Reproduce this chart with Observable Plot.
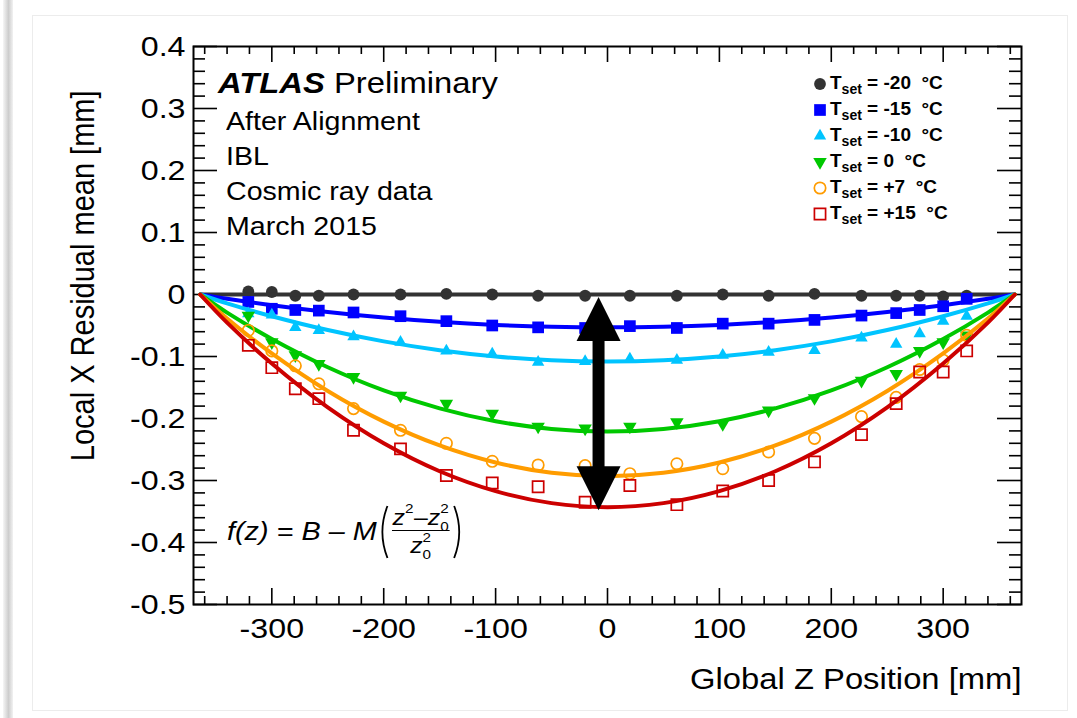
<!DOCTYPE html>
<html>
<head>
<meta charset="utf-8">
<script src="https://cdn.jsdelivr.net/npm/d3@7"></script>
<script src="https://cdn.jsdelivr.net/npm/@observablehq/plot@0.6"></script>
<style>
html,body{margin:0;padding:0;background:#fff;}
#wrap{position:relative;width:1077px;height:718px;overflow:hidden;font-family:"Liberation Sans",Arial,Helvetica,sans-serif;color:#000;}
.stripe{position:absolute;left:3px;top:0;width:10px;height:718px;background:linear-gradient(to right,#f6f6f6,#cdcdcd 55%,#f2f2f2);}
.panel{position:absolute;left:32px;top:15px;width:1034px;height:694px;border:1px solid #ececec;}
#chart{position:absolute;left:0;top:0;}
.lbl{position:absolute;line-height:1;white-space:pre;transform:scaleX(1.13);transform-origin:0 0;}
.leg{font-weight:bold;font-size:19px;transform:none;}
.leg .sub{font-size:14px;vertical-align:-5px;}
#formula{display:flex;align-items:center;font-size:25.5px;transform:translateY(-50%) scaleX(1.13);transform-origin:0 50%;}
#formula .it{font-style:italic;}
.frac{display:inline-flex;flex-direction:column;align-items:center;margin:0 2px;}
.num,.den{font-size:22px;line-height:22px;font-style:italic;white-space:pre;}
.den{padding-top:3px;}
.bar{height:1.5px;background:#000;align-self:stretch;margin:1px 0;}
.ss{display:inline-block;position:relative;width:8px;height:1px;font-size:13.5px;font-style:normal;line-height:1;}
.ss .s2{position:absolute;left:0;bottom:9px;}
.ss .s0{position:absolute;left:0;top:-4px;}
</style>
</head>
<body>
<div id="wrap">
  <div class="stripe"></div>
  <div class="panel"></div>
  <div id="chart"></div>
</div>
<script>
// ---------------- data ----------------
const zPos = [-321,-300,-279,-258,-227,-185,-144,-103,-62,-20,20,62,103,144,185,227,258,279,300,321];

const residM20 = [0.005,0.004,-0.002,-0.002,0.000,0.000,0.001,0.000,-0.002,-0.002,-0.002,-0.002,0.000,-0.002,0.001,-0.002,-0.002,-0.002,-0.003,-0.002];
const residM15 = [-0.012,-0.023,-0.025,-0.026,-0.029,-0.035,-0.043,-0.050,-0.053,-0.054,-0.051,-0.054,-0.047,-0.047,-0.041,-0.034,-0.030,-0.025,-0.019,-0.007];
const residM10 = [-0.031,-0.033,-0.053,-0.058,-0.068,-0.077,-0.091,-0.096,-0.109,-0.108,-0.104,-0.106,-0.098,-0.093,-0.090,-0.070,-0.080,-0.063,-0.043,-0.035];
const resid0   = [-0.034,-0.077,-0.098,-0.112,-0.133,-0.163,-0.176,-0.192,-0.213,-0.216,-0.213,-0.206,-0.209,-0.187,-0.167,-0.139,-0.128,-0.091,-0.077,-0.066];
const residP7  = [-0.058,-0.091,-0.115,-0.144,-0.184,-0.219,-0.240,-0.269,-0.275,-0.276,-0.289,-0.273,-0.281,-0.254,-0.232,-0.197,-0.166,-0.121,-0.106,-0.066];
const residP15 = [-0.082,-0.118,-0.152,-0.168,-0.219,-0.249,-0.292,-0.304,-0.310,-0.335,-0.308,-0.339,-0.317,-0.300,-0.270,-0.226,-0.176,-0.125,-0.125,-0.091];

// fitted curves f(z)
const fitZ   = [-364,-340,-300,-250,-200,-150,-100,-50,0,50,100,150,200,250,300,340,364];
const fitM20 = [0,0,0,0,0,0,0,0,0,0,0,0,0,0,0,0,0];
const fitM15 = [0,-0.0070,-0.0172,-0.0281,-0.0371,-0.0440,-0.0490,-0.0520,-0.0530,-0.0520,-0.0490,-0.0440,-0.0371,-0.0281,-0.0172,-0.0070,0];
const fitM10 = [0,-0.0143,-0.0350,-0.0573,-0.0756,-0.0898,-0.0999,-0.1060,-0.1080,-0.1060,-0.0999,-0.0898,-0.0756,-0.0573,-0.0350,-0.0143,0];
const fit0   = [0,-0.0292,-0.0717,-0.1173,-0.1547,-0.1837,-0.2044,-0.2168,-0.2210,-0.2168,-0.2044,-0.1837,-0.1547,-0.1173,-0.0717,-0.0292,0];
const fitP7  = [0,-0.0388,-0.0950,-0.1556,-0.2050,-0.2435,-0.2710,-0.2875,-0.2930,-0.2875,-0.2710,-0.2435,-0.2050,-0.1556,-0.0950,-0.0388,0];
const fitP15 = [0,-0.0454,-0.1113,-0.1821,-0.2400,-0.2851,-0.3172,-0.3365,-0.3430,-0.3365,-0.3172,-0.2851,-0.2400,-0.1821,-0.1113,-0.0454,0];

const legendTemps  = ["-20","-15","-10","0","+7","+15"];
const seriesColors = ["#333333","#0000ff","#00c4ff","#00c800","#ff9c00","#cc0000"];

const xTickLabels = [-300,-200,-100,0,100,200,300];
const yTickLabels = [-0.5,-0.4,-0.3,-0.2,-0.1,0,0.1,0.2,0.3,0.4];

const arrowData = [{z:-8, top:-0.004, bottom:-0.348}];

const infoLines = ["After Alignment","IBL","Cosmic ray data","March 2015"];

// ---------------- layout ----------------
const SX = 1.13;
const W = 1077, H = 718, ML = 193, MR = 56, MT = 46, MB = 114;
const IW = W - ML - MR, IH = H - MT - MB;

const downTriangle = {draw(ctx, size){
  const y = Math.sqrt(size / (Math.sqrt(3) * 3));
  ctx.moveTo(0, 2*y); ctx.lineTo(-Math.sqrt(3)*y, -y); ctx.lineTo(Math.sqrt(3)*y, -y); ctx.closePath();
}};
const headUp = {draw(ctx, size){ const s = Math.sqrt(size); ctx.moveTo(0,0); ctx.lineTo(s/2, s); ctx.lineTo(-s/2, s); ctx.closePath(); }};
const headDown = {draw(ctx, size){ const s = Math.sqrt(size); ctx.moveTo(0,0); ctx.lineTo(s/2, -s); ctx.lineTo(-s/2, -s); ctx.closePath(); }};

const series = [
  {data: residM20, fit: fitM20, symbol: "circle",   d3sym: d3.symbolCircle,   filled: true,  r: 5.9},
  {data: residM15, fit: fitM15, symbol: "square",   d3sym: d3.symbolSquare,   filled: true,  r: 6.6},
  {data: residM10, fit: fitM10, symbol: "triangle", d3sym: d3.symbolTriangle, filled: true,  r: 4.6},
  {data: resid0,   fit: fit0,   symbol: downTriangle, d3sym: downTriangle,    filled: true,  r: 5.0},
  {data: residP7,  fit: fitP7,  symbol: "circle",   d3sym: d3.symbolCircle,   filled: false, r: 5.7},
  {data: residP15, fit: fitP15, symbol: "square",   d3sym: d3.symbolSquare,   filled: false, r: 6.3}
].map((s, i) => ({...s, color: seriesColors[i], temp: legendTemps[i]}));

const yMinor = d3.range(-25, 21).map(k => k / 50).filter(v => Math.abs(v * 10 - Math.round(v * 10)) > 1e-6);
const xMinor = d3.range(-18, 19).map(k => k * 20).filter(v => v % 100 !== 0);
const fmtY = d => d === 0 ? "0" : d.toFixed(1);

const tickStyle = {stroke: "#000", strokeWidth: 1.6};

const seriesMarks = series.flatMap(s => [
  Plot.dot(zPos.map((z, i) => ({z, v: s.data[i]})), {
    x: "z", y: "v", symbol: s.symbol, r: s.r,
    fill: s.filled ? s.color : "none",
    stroke: s.filled ? "none" : s.color,
    strokeWidth: 1.7
  }),
  Plot.line(fitZ.map((z, i) => ({z, v: s.fit[i]})), {
    x: "z", y: "v", stroke: s.color, strokeWidth: 4, curve: "catmull-rom"
  })
]);

const headR = 44 / Math.sqrt(Math.PI);

const svg = Plot.plot({
  width: W, height: H,
  marginLeft: ML, marginRight: MR, marginTop: MT, marginBottom: MB,
  style: {background: "transparent", fontFamily: "'Liberation Sans', Arial, Helvetica, sans-serif", overflow: "visible"},
  x: {domain: [-370, 370], label: null},
  y: {domain: [-0.5, 0.4], label: null},
  marks: [
    Plot.ruleY(yTickLabels, {...tickStyle, insetRight: IW - 24}),
    Plot.ruleY(yTickLabels, {...tickStyle, insetLeft: IW - 24}),
    Plot.ruleY(yMinor, {...tickStyle, insetRight: IW - 12}),
    Plot.ruleY(yMinor, {...tickStyle, insetLeft: IW - 12}),
    Plot.ruleX(xTickLabels, {...tickStyle, insetTop: IH - 16}),
    Plot.ruleX(xTickLabels, {...tickStyle, insetBottom: IH - 16}),
    Plot.ruleX(xMinor, {...tickStyle, insetTop: IH - 8}),
    Plot.ruleX(xMinor, {...tickStyle, insetBottom: IH - 8}),
    Plot.frame({stroke: "#000", strokeWidth: 2}),
    Plot.axisX({ticks: xTickLabels, tickSize: 0, tickPadding: 13, tickFormat: d => String(d), fontSize: 28.5, label: null, fill: "#000"}),
    Plot.axisY({ticks: yTickLabels, tickSize: 0, tickPadding: 8, tickFormat: fmtY, fontSize: 28.5, label: null, fill: "#000"}),
    Plot.text(["Global Z Position [mm]"], {text: d => d, frameAnchor: "bottom-right", textAnchor: "end", dy: 84, fontSize: 29, fill: "#000"}),
    Plot.text(["Local X Residual mean [mm]"], {text: d => d, frameAnchor: "top-left", rotate: -90, textAnchor: "end", dx: -123, dy: 44, fontSize: 29, fill: "#000"}),
    ...seriesMarks,
    Plot.ruleX(arrowData, {x: "z", y1: "top", y2: "bottom", stroke: "#000", strokeWidth: 12, insetTop: 40, insetBottom: 40}),
    Plot.dot(arrowData, {x: "z", y: "top", symbol: headUp, r: headR, fill: "#000", stroke: "none"}),
    Plot.dot(arrowData, {x: "z", y: "bottom", symbol: headDown, r: headR, fill: "#000", stroke: "none"})
  ]
});

// horizontal text stretch to match the reference lettering (vertical offsets untouched)
svg.querySelectorAll("text").forEach(t => {
  let tr = t.getAttribute("transform") || "";
  const x = t.getAttribute("x");
  if (x != null && /^-?[\d.]+$/.test(x.trim())) {
    tr += ` translate(${+x},0)`;
    t.removeAttribute("x");
  }
  tr += /rotate/.test(tr) ? ` scale(1,${SX})` : ` scale(${SX},1)`;
  t.setAttribute("transform", tr.trim());
});
document.getElementById("chart").appendChild(svg);

const wrap = document.getElementById("wrap");

// ---------------- ATLAS label block ----------------
function addLabel(html, left, baseline, fs, extraClass) {
  const d = document.createElement("div");
  d.className = "lbl" + (extraClass ? " " + extraClass : "");
  d.style.left = left + "px";
  d.style.top = (baseline - 0.8465 * fs) + "px";
  d.style.fontSize = fs + "px";
  d.innerHTML = html;
  wrap.appendChild(d);
  return d;
}
addLabel('<b><i>ATLAS</i></b> Preliminary', 218, 93.3, 29);
infoLines.forEach((s, i) => addLabel(s, 226, 130.7 + i * 34.8, 25.3));

// ---------------- legend ----------------
series.forEach((s, i) => {
  const yc = 83.5 + i * 26.1;
  const m = d3.create("svg").attr("width", 20).attr("height", 20)
    .style("position", "absolute").style("left", (820 - 10) + "px").style("top", (yc - 10) + "px");
  m.append("path").attr("transform", "translate(10,10)")
    .attr("d", d3.symbol(s.d3sym, Math.PI * s.r * s.r)())
    .attr("fill", s.filled ? s.color : "none")
    .attr("stroke", s.filled ? "none" : s.color)
    .attr("stroke-width", 1.7);
  wrap.appendChild(m.node());
  const t = document.createElement("div");
  t.className = "lbl leg";
  t.style.left = "830px";
  t.style.top = (yc - 11) + "px";
  t.innerHTML = `T<span class="sub">set</span> = ${s.temp}  °C`;
  wrap.appendChild(t);
});

// ---------------- formula ----------------
const f = document.createElement("div");
f.id = "formula";
f.className = "lbl";
f.style.left = "227px";
f.style.top = "532px";
const paren = (d) => `<svg width="12" height="54" viewBox="0 0 12 54"><path d="${d}" fill="none" stroke="#000" stroke-width="1.6"/></svg>`;
f.innerHTML =
  `<span class="it">f(z) = B – M</span>` +
  paren("M10,1 Q1,27 10,53") +
  `<span class="frac"><span class="num">z<span class="ss"><span class="s2">2</span></span><span style="font-style:normal">–</span>z<span class="ss"><span class="s2">2</span><span class="s0">0</span></span></span>` +
  `<span class="bar"></span>` +
  `<span class="den">z<span class="ss"><span class="s2">2</span><span class="s0">0</span></span></span></span>` +
  paren("M2,1 Q11,27 2,53");
wrap.appendChild(f);
</script>
</body>
</html>
